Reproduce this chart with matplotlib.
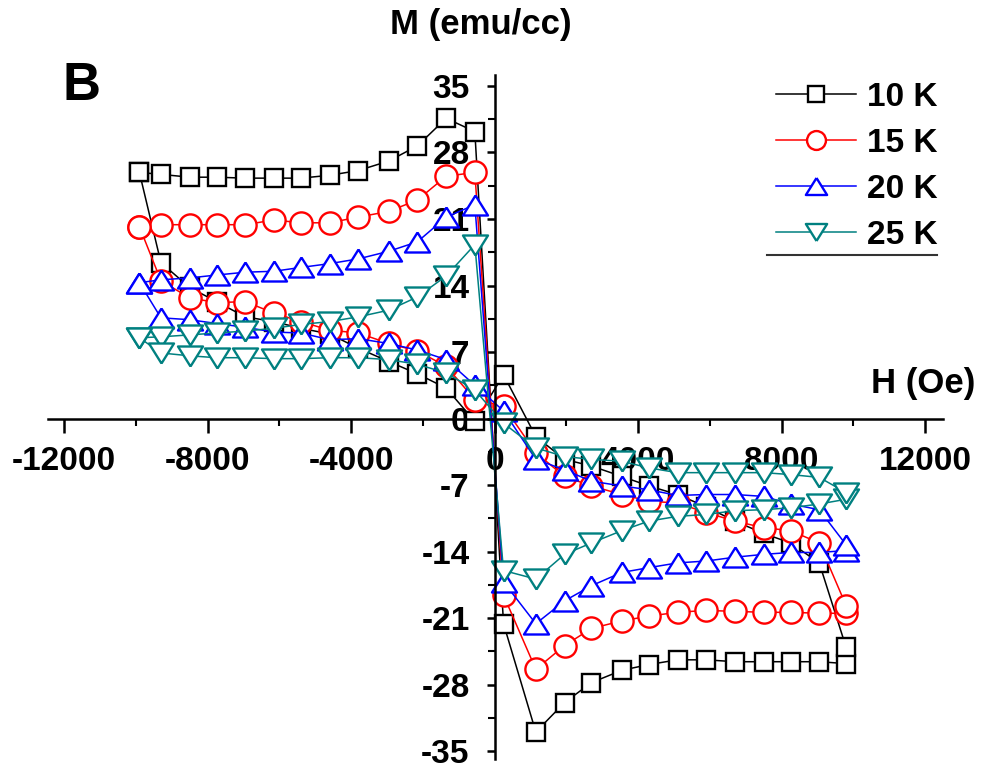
import numpy as np
import matplotlib
matplotlib.use('Agg')
import matplotlib.pyplot as plt
from matplotlib.lines import Line2D
from matplotlib.ticker import MultipleLocator

plt.rcParams['font.family'] = ['Liberation Sans', 'DejaVu Sans']
plt.rcParams['font.weight'] = 'bold'
plt.rcParams['axes.unicode_minus'] = False

# field sweep, Oe: rising branch then falling branch
H_UP = [-9900, -9300, -8500, -7750, -6950, -6150, -5400, -4600, -3800, -2950,
        -2150, -1350, -550, 250, 1150, 1950, 2700, 3550, 4300, 5100, 5900,
        6700, 7500, 8250, 9050, 9800]
H_DOWN = [9800, 9050, 8250, 7500, 6700, 5900, 5100, 4300, 3550, 2700, 1950,
          1150, 250, -550, -1350, -2150, -2950, -3800, -4600, -5400, -6150,
          -6950, -7750, -8500, -9300]

# magnetization, emu/cc
M_10K_UP = [25.9, 25.7, 25.4, 25.4, 25.3, 25.3, 25.3, 25.6, 26.1, 27.1, 28.7,
            31.6, 30.2, -21.6, -33.0, -29.9, -27.8, -26.5, -25.9, -25.4,
            -25.4, -25.6, -25.6, -25.6, -25.6, -25.8]
M_10K_DOWN = [-24.1, -15.2, -13.1, -12.1, -10.8, -9.3, -8.0, -7.1, -6.1,
              -5.0, -4.3, -1.9, 4.6, -0.3, 3.2, 4.7, 6.0, 7.4, 8.9, 9.5,
              10.2, 10.7, 12.3, 13.8, 16.4]
M_15K_UP = [20.2, 20.4, 20.4, 20.4, 20.4, 20.9, 20.6, 20.6, 21.2, 21.8, 23.0,
            25.5, 25.9, -18.6, -26.4, -23.9, -22.1, -21.3, -20.8, -20.4,
            -20.2, -20.3, -20.4, -20.4, -20.5, -20.5]
M_15K_DOWN = [-19.7, -13.1, -11.8, -11.5, -10.8, -9.9, -8.9, -8.7, -8.0,
              -7.1, -6.1, -3.6, 1.3, 2.0, 5.5, 7.1, 7.9, 9.0, 9.3, 10.2,
              11.1, 12.3, 12.2, 12.7, 14.5]
M_20K_UP = [14.3, 14.6, 14.8, 15.1, 15.4, 15.5, 15.9, 16.3, 16.8, 17.6, 18.6,
            21.2, 22.5, -17.2, -21.6, -19.2, -17.6, -16.2, -15.7, -15.2,
            -15.0, -14.6, -14.3, -14.1, -14.1, -13.9]
M_20K_DOWN = [-13.3, -9.6, -9.0, -8.2, -8.0, -8.0, -8.1, -7.5, -7.1, -6.6,
              -5.4, -4.3, 0.8, 3.5, 6.2, 7.2, 7.9, 8.4, 8.3, 9.0, 9.1, 9.6,
              10.0, 10.4, 10.6]
M_25K_UP = [8.5, 8.6, 8.8, 9.0, 9.2, 9.5, 9.9, 10.2, 10.7, 11.4, 12.8, 15.0,
            18.3, -16.0, -16.9, -14.3, -13.1, -11.8, -10.8, -10.3, -10.1,
            -9.7, -9.6, -9.4, -9.0, -8.5]
M_25K_DOWN = [-7.8, -6.2, -5.9, -5.7, -5.7, -5.7, -5.7, -5.2, -4.5, -4.3,
              -4.0, -3.1, -0.5, 3.0, 4.8, 5.7, 6.2, 6.4, 6.4, 6.3, 6.3, 6.4,
              6.4, 6.6, 6.9]

LABELS = ['10 K', '15 K', '20 K', '25 K']
COLORS = ['#000000', '#ff0000', '#0000ff', '#008080']

TRI_UP = [(0, 0.8), (-1, -0.8), (1, -0.8), (0, 0.8)]
TRI_DOWN = [(0, -0.8), (-1, 0.8), (1, 0.8), (0, -0.8)]
MARKERS = ['s', 'o', TRI_UP, TRI_DOWN]
MSIZES = [13.5, 16, 18, 18]

W, H = 986, 769

fig = plt.figure(figsize=(W / 100, H / 100), dpi=100)
ax = fig.add_axes([0.0486, 0.0135, 0.9078, 0.8895])

loops = [(M_10K_UP, M_10K_DOWN), (M_15K_UP, M_15K_DOWN),
         (M_20K_UP, M_20K_DOWN), (M_25K_UP, M_25K_DOWN)]
for (m_up, m_down), lab, col, mk, ms in zip(loops, LABELS, COLORS, MARKERS, MSIZES):
    hh = np.concatenate([H_UP, H_DOWN, H_UP[:1]])
    mm = np.concatenate([m_up, m_down, m_up[:1]])
    ax.plot(hh, mm, color=col, lw=1.1, marker=mk, ms=ms, mfc='white',
            mec=col, mew=1.7, label=lab)

ax.set_xlim(-12450, 12500)
ax.set_ylim(-35.8, 36.2)

for side in ['top', 'right']:
    ax.spines[side].set_visible(False)
ax.spines['left'].set_position(('data', 0))
ax.spines['bottom'].set_position(('data', 0))
for side in ['left', 'bottom']:
    ax.spines[side].set_linewidth(1.8)

ax.xaxis.set_major_locator(MultipleLocator(4000))
ax.xaxis.set_minor_locator(MultipleLocator(2000))
ax.yaxis.set_major_locator(MultipleLocator(7))
ax.yaxis.set_minor_locator(MultipleLocator(3.5))
ax.tick_params(axis='x', which='major', direction='out', length=10, width=1.8,
               pad=10, labelsize=24)
ax.tick_params(axis='x', which='minor', direction='out', length=5, width=1.5)
ax.tick_params(axis='y', which='major', direction='out', length=6, width=1.8,
               pad=12, labelsize=24)
ax.tick_params(axis='y', which='minor', direction='out', length=5, width=1.5)

leg = ax.legend(loc='upper right', bbox_to_anchor=(938 / W, 1 - 82 / H),
                bbox_transform=fig.transFigure, frameon=False, fontsize=24,
                handlelength=2.4, handletextpad=0.35, labelspacing=0.45,
                borderpad=0, borderaxespad=0, markerscale=0.85)
fig.add_artist(Line2D([767 / W, 937 / W], [1 - 255 / H, 1 - 255 / H],
                      transform=fig.transFigure, color='#333333', lw=1.5))

fig.text(481 / W, 1 - 34 / H, 'M (emu/cc)', ha='center', va='baseline', fontsize=25)
fig.text(975 / W, 1 - 393 / H, 'H (Oe)', ha='right', va='baseline', fontsize=25)
fig.text(62 / W, 1 - 100 / H, 'B', va='baseline', fontsize=38)

fig.savefig('out.png', dpi=100)
